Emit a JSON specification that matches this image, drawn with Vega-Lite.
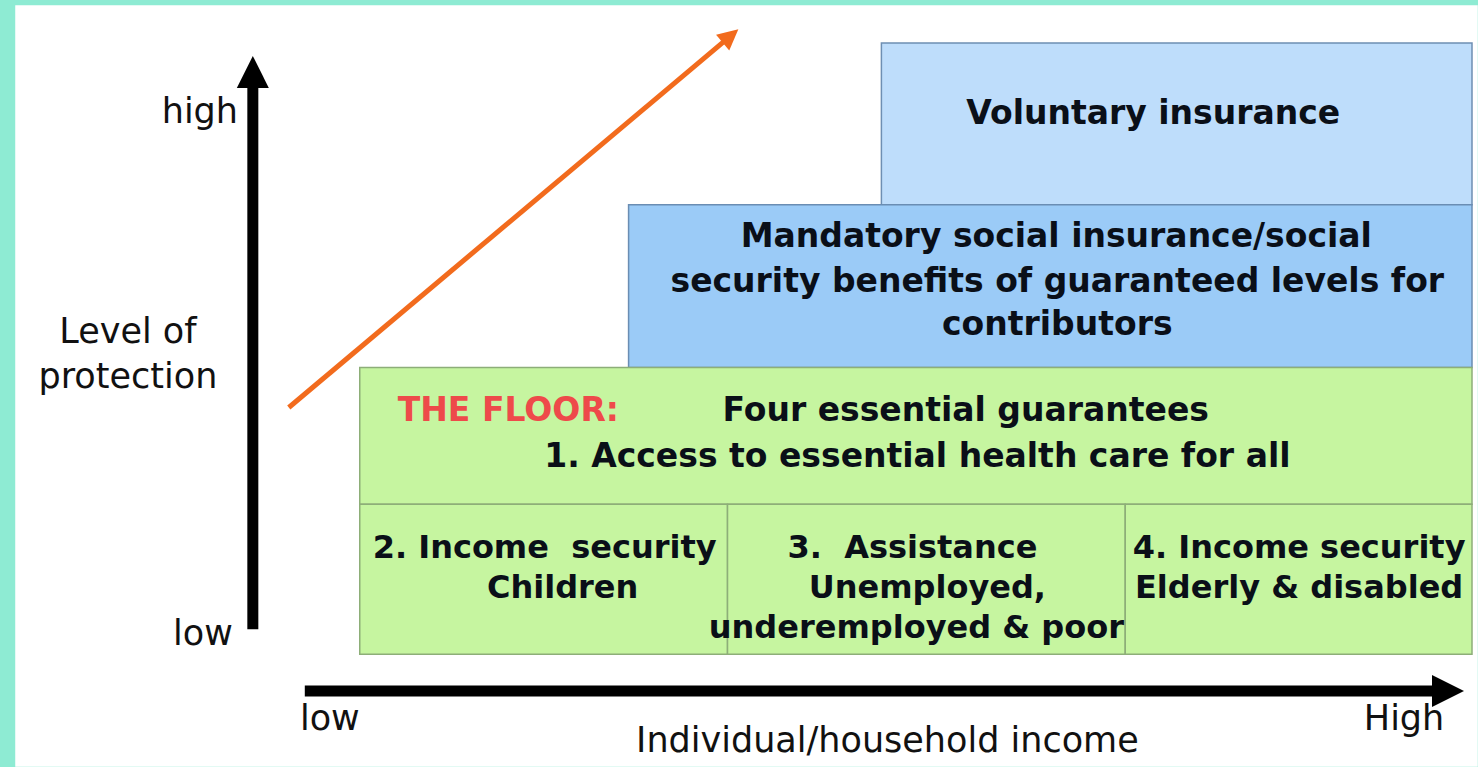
{
  "$schema": "https://vega.github.io/schema/vega-lite/v6.json",
  "width": 1478,
  "height": 767,
  "padding": 0,
  "autosize": {"type": "fit", "contains": "padding"},
  "background": "#8EEBD3",
  "config": {"view": {"stroke": null}},
  "datasets": {
    "boxes": [
      {"part": "panel", "x": 16, "x2": 1478, "y": 6, "y2": 767},
      {"part": "voluntary", "x": 882, "x2": 1473, "y": 43, "y2": 205},
      {"part": "mandatory", "x": 629, "x2": 1473, "y": 205, "y2": 368},
      {"part": "floor", "x": 360, "x2": 1473, "y": 368, "y2": 505},
      {"part": "floor", "x": 360, "x2": 728, "y": 505, "y2": 655},
      {"part": "floor", "x": 728, "x2": 1126, "y": 505, "y2": 655},
      {"part": "floor", "x": 1126, "x2": 1473, "y": 505, "y2": 655}
    ],
    "shafts": [
      {"axis": "protection", "x": 253, "x2": 253, "y": 630, "y2": 86},
      {"axis": "income", "x": 305, "x2": 1436, "y": 692, "y2": 692}
    ],
    "trend": [
      {"x": 289, "x2": 724, "y": 408, "y2": 42}
    ],
    "labels": [
      {"text": "high", "x": 200, "y": 112},
      {"text": "low", "x": 203, "y": 635},
      {"text": "Level of", "x": 128, "y": 332},
      {"text": "protection", "x": 128, "y": 377},
      {"text": "low", "x": 330, "y": 720},
      {"text": "High", "x": 1405, "y": 720},
      {"text": "Individual/household income", "x": 888, "y": 742}
    ],
    "boxtext": [
      {"text": "Voluntary insurance", "x": 1154, "y": 114},
      {"text": "Mandatory social insurance/social", "x": 1057, "y": 237},
      {"text": "security benefits of guaranteed levels for", "x": 1058, "y": 282},
      {"text": "contributors", "x": 1058, "y": 325},
      {"text": "1. Access to essential health care for all", "x": 918, "y": 458}
    ],
    "celltext": [
      {"text": "2. Income\u00a0 security", "x": 545, "y": 549},
      {"text": "Children", "x": 563, "y": 589},
      {"text": "3.\u00a0 Assistance", "x": 913, "y": 549},
      {"text": "Unemployed,", "x": 928, "y": 589},
      {"text": "underemployed & poor", "x": 917, "y": 629},
      {"text": "4. Income security", "x": 1300, "y": 549},
      {"text": "Elderly & disabled", "x": 1300, "y": 589}
    ],
    "floortext": [
      {"text": "THE FLOOR:", "kind": "title", "x": 398, "y": 412},
      {"text": "Four essential guarantees", "kind": "body", "x": 723, "y": 412}
    ]
  },
  "layer": [
    {
      "data": {"name": "boxes"},
      "mark": {"type": "rect", "strokeWidth": 1.5},
      "encoding": {
        "x": {"field": "x", "type": "quantitative", "scale": {"domain": [0, 1478], "nice": false, "zero": false}, "axis": null},
        "x2": {"field": "x2"},
        "y": {"field": "y", "type": "quantitative", "scale": {"domain": [0, 767], "nice": false, "zero": false, "reverse": true}, "axis": null},
        "y2": {"field": "y2"},
        "fill": {"field": "part", "type": "nominal", "legend": null,
          "scale": {"domain": ["panel", "voluntary", "mandatory", "floor"], "range": ["#FFFFFF", "#BEDDFB", "#9BCBF7", "#C6F5A0"]}},
        "stroke": {"field": "part", "type": "nominal", "legend": null,
          "scale": {"domain": ["panel", "voluntary", "mandatory", "floor"], "range": ["#FFFFFF", "#6E8FB3", "#6A8DB3", "#8DAE78"]}}
      }
    },
    {
      "data": {"name": "shafts"},
      "mark": {"type": "rule", "color": "#000000", "strokeWidth": 11},
      "encoding": {
        "x": {"field": "x", "type": "quantitative"},
        "x2": {"field": "x2"},
        "y": {"field": "y", "type": "quantitative"},
        "y2": {"field": "y2"}
      }
    },
    {
      "data": {"values": [{"x": 253, "y": 72}]},
      "mark": {"type": "point", "shape": "M-1,1L0,-1L1,1Z", "filled": true, "color": "#000000", "size": 1024, "opacity": 1, "strokeWidth": 0},
      "encoding": {
        "x": {"field": "x", "type": "quantitative"},
        "y": {"field": "y", "type": "quantitative"}
      }
    },
    {
      "data": {"values": [{"x": 1449, "y": 692}]},
      "mark": {"type": "point", "shape": "M-1,1L0,-1L1,1Z", "angle": 90, "filled": true, "color": "#000000", "size": 1024, "opacity": 1, "strokeWidth": 0},
      "encoding": {
        "x": {"field": "x", "type": "quantitative"},
        "y": {"field": "y", "type": "quantitative"}
      }
    },
    {
      "data": {"name": "trend"},
      "mark": {"type": "rule", "color": "#F26B1D", "strokeWidth": 5},
      "encoding": {
        "x": {"field": "x", "type": "quantitative"},
        "x2": {"field": "x2"},
        "y": {"field": "y", "type": "quantitative"},
        "y2": {"field": "y2"}
      }
    },
    {
      "data": {"values": [{"x": 731, "y": 36}]},
      "mark": {"type": "point", "shape": "M-1,1L0,-1L1,1Z", "angle": 50, "filled": true, "color": "#F26B1D", "size": 420, "opacity": 1, "strokeWidth": 0},
      "encoding": {
        "x": {"field": "x", "type": "quantitative"},
        "y": {"field": "y", "type": "quantitative"}
      }
    },
    {
      "data": {"name": "labels"},
      "mark": {"type": "text", "font": "DejaVu Sans", "fontSize": 35, "color": "#111111", "align": "center", "baseline": "middle"},
      "encoding": {
        "x": {"field": "x", "type": "quantitative"},
        "y": {"field": "y", "type": "quantitative"},
        "text": {"field": "text"}
      }
    },
    {
      "data": {"name": "boxtext"},
      "mark": {"type": "text", "font": "DejaVu Sans", "fontSize": 33, "fontWeight": "bold", "color": "#0A0F18", "align": "center", "baseline": "middle"},
      "encoding": {
        "x": {"field": "x", "type": "quantitative"},
        "y": {"field": "y", "type": "quantitative"},
        "text": {"field": "text"}
      }
    },
    {
      "data": {"name": "celltext"},
      "mark": {"type": "text", "font": "DejaVu Sans", "fontSize": 32, "fontWeight": "bold", "color": "#0A0F18", "align": "center", "baseline": "middle"},
      "encoding": {
        "x": {"field": "x", "type": "quantitative"},
        "y": {"field": "y", "type": "quantitative"},
        "text": {"field": "text"}
      }
    },
    {
      "data": {"name": "floortext"},
      "mark": {"type": "text", "font": "DejaVu Sans", "fontSize": 33, "fontWeight": "bold", "align": "left", "baseline": "middle"},
      "encoding": {
        "x": {"field": "x", "type": "quantitative"},
        "y": {"field": "y", "type": "quantitative"},
        "text": {"field": "text"},
        "color": {"field": "kind", "type": "nominal", "legend": null,
          "scale": {"domain": ["title", "body"], "range": ["#EE4A4A", "#0A0F18"]}}
      }
    }
  ]
}
